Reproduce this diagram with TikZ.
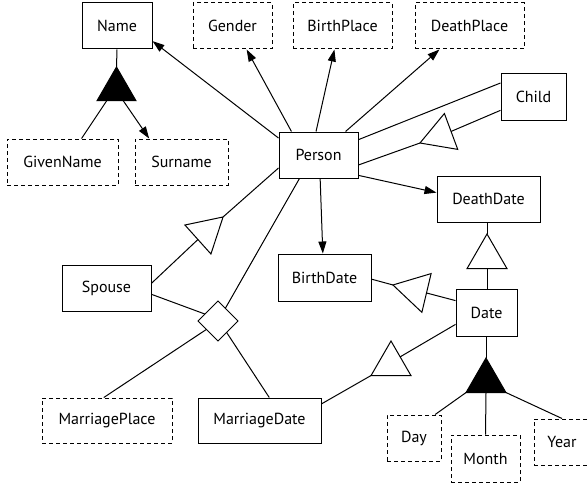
\documentclass[tikz,border=0pt]{standalone}
\usepackage{fontspec}
\setmainfont{PT Sans}
\usetikzlibrary{shapes.geometric,arrows.meta,calc}
\begin{document}
\begin{tikzpicture}[x=1pt,y=-1pt,
  box/.style={draw,line width=1pt,inner sep=0pt,minimum height=46pt,font=\fontsize{16}{19}\selectfont},
  attr/.style={box,dash pattern=on 4pt off 3pt},
  tri/.style={draw,line width=1pt,regular polygon,regular polygon sides=3,inner sep=0pt,outer sep=0pt,minimum size=46pt},
  ftri/.style={tri,fill=black},
  link/.style={line width=1pt},
  arr/.style={link,-{Triangle[length=12pt,width=8pt]}},
]
\useasboundingbox (0,0) rectangle (588,484);
% entities and attributes
\node[box,minimum width=70pt] (name) at (117,26) {Name};
\node[attr,minimum width=79pt] (gender) at (232.5,26) {Gender};
\node[attr,minimum width=99pt] (birthplace) at (342.5,26) {BirthPlace};
\node[attr,minimum width=109pt] (deathplace) at (469.5,26) {DeathPlace};
\node[box,minimum width=65pt] (child) at (533.5,97) {Child};
\node[box,minimum width=79pt] (person) at (318.5,155) {Person};
\node[attr,minimum width=111pt] (givenname) at (62.5,162) {GivenName};
\node[attr,minimum width=93pt] (surname) at (181.5,162) {Surname};
\node[box,minimum width=103pt] (deathdate) at (488.5,199) {DeathDate};
\node[box,minimum width=93pt,minimum height=47pt] (birthdate) at (324.5,277.5) {BirthDate};
\node[box,minimum width=89pt] (spouse) at (106.5,288) {Spouse};
\node[box,minimum width=61pt,minimum height=47pt] (date) at (486.5,312.5) {Date};
\node[attr,minimum width=130pt,minimum height=45pt] (mplace) at (107,420.5) {MarriagePlace};
\node[box,minimum width=123pt,minimum height=45pt] (mdate) at (259.5,420.5) {MarriageDate};
\node[attr,minimum width=54pt] (day) at (414,438) {Day};
\node[attr,minimum width=69pt,minimum height=47pt] (month) at (485.5,458.5) {Month};
\node[attr,minimum width=56pt] (year) at (562,442) {Year};
% triangles and diamond
\node[ftri,minimum size=45pt] (t1) at (116.5,89.5) {};
\node[tri,shape border rotate=110.4,minimum size=44.2pt] (t2) at (440.7,135.3) {};
\node[tri] (t3) at (487,257) {};
\node[tri,shape border rotate=76.6] (t4) at (415.3,290.3) {};
\node[tri,shape border rotate=-48.1,minimum size=45pt] (t5) at (206.3,232) {};
\node[tri] (t6) at (391,364) {};
\node[ftri] (t7) at (486,381) {};
\node[draw,line width=1pt,regular polygon,regular polygon sides=4,shape border rotate=45,inner sep=0pt,outer sep=0pt,minimum size=40pt] (dia) at (218,321) {};
% connectors
\draw[link] (name.south) -- (t1.corner 1);
\draw[link] (t1.229) -- (givenname.51);
\draw[arr] (t1.-59) -- (surname.144);
\draw[arr] (person.157) -- (name.-23);
\draw[arr] (person.139) -- (gender.-59);
\draw[arr] (person.96) -- (birthplace.-109.5);
\draw[arr] (person.41) -- (deathplace.218);
\draw[link] (person.21) -- (child.157);
\draw[link] (person.-14) -- (t2.corner 1);
\draw[link] (t2.side 2) -- (child.202);
\draw[arr] (person.-27) -- (deathdate.173);
\draw[arr] (person.274) -- (birthdate.94);
\draw[link] (t3.corner 1) -- (t3.corner 1 |- deathdate.south);
\draw[link] (t3.side 2) -- (t3.side 2 |- date.north);
\draw[link] (birthdate.-2) -- (t4.corner 1);
\draw[link] (t4.side 2) -- (date.159);
\draw[link] (spouse.6) -- (t5.side 2);
\draw[link] (t5.corner 1) -- (person.198);
\draw[link] (spouse.-8) -- (dia.152);
\draw[link] (person.231) -- (dia.60);
\draw[link] (dia.216) -- (mplace.98);
\draw[link] (dia.-53) -- (mdate.67);
\draw[link] (mdate.15) -- (t6.corner 2);
\draw[link] (t6.38) -- (date.201);
\draw[link] (t7.corner 1) -- (t7.corner 1 |- date.south);
\draw[link] (t7.corner 2) -- (day.48);
\draw[link] (t7.side 2) -- (month.north);
\draw[link] (t7.corner 3) -- (year.north);
\end{tikzpicture}
\end{document}
